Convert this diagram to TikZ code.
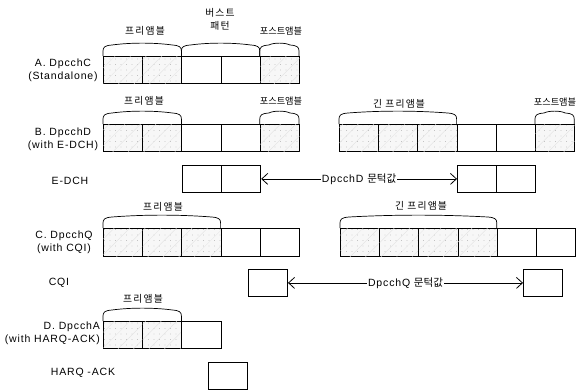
\documentclass[tikz,border=0pt]{standalone}
\usepackage{fontspec}
\setmainfont{Liberation Sans}
\newfontfamily\krs[LetterSpace=12]{Noto Sans CJK KR}
\newfontfamily\kr{Noto Sans CJK KR}
\newfontfamily\lat[LetterSpace=8]{Liberation Sans}
\usetikzlibrary{arrows.meta,patterns.meta}
\tikzset{
  cell/.style={draw, line width=0.8pt, minimum width=39.2pt, minimum height=27pt, inner sep=0pt, anchor=north west},
  sh/.style={preaction={fill=black!3}, pattern={Dots[distance=5.5pt, radius=0.4pt]}, pattern color=black!35,
     postaction={pattern={Lines[angle=45,distance=11pt,line width=0.3pt]}, pattern color=black!12}},
  pl/.style={},
  arcline/.style={draw, line width=0.7pt},
  side/.style={font=\lat\fontsize{10.5}{13}\selectfont, align=center, inner sep=0pt},
  kor/.style={font=\krs\fontsize{9.8}{13}\selectfont, align=center, inner sep=0pt},
  korp/.style={font=\kr\fontsize{9.2}{13}\selectfont, align=center, inner sep=0pt},
  dim/.style={{Straight Barb[length=6pt,width=11pt]}-{Straight Barb[length=6pt,width=11pt]}, line width=0.8pt},
  dimlbl/.style={fill=white, inner sep=1pt, font=\lat\fontsize{10.5}{12}\selectfont}
}
\newcommand\archover[3]{%
\draw[arcline] (#1,#3) -- (#1,{#3-5}) .. controls (#1,{#3-9}) and ({#1+2},{#3-10.5}) .. ({#1+9},{#3-11})
 .. controls ({#1+(#2-#1)*0.35},{#3-13.5}) and ({#2-(#2-#1)*0.35},{#3-13.5}) .. ({#2-9},{#3-11})
 .. controls ({#2-2},{#3-10.5}) and (#2,{#3-9}) .. (#2,{#3-5}) -- (#2,#3);}
\begin{document}
\begin{tikzpicture}[x=1pt,y=-1pt]
\useasboundingbox (0,0) rectangle (588,389);
% Row A
\foreach \i/\st in {1/sh,2/sh,3/pl,4/pl,5/sh}
  \node[cell,\st] (a\i) at ({103+(\i-1)*39.2},56) {};
\archover{103}{181.4}{56}
\archover{181.4}{259.8}{56}
\archover{259.8}{299}{56}
\node[kor] (ta1) at (145,31) {프리앰블};
\node[kor] (ta2) at (220,19.5) {버스트\\패턴};
\node[korp] (ta3) at (281,31) {포스트앰블};
\node[side] (la) at (63,70) {A. DpcchC\\(Standalone)};
% Row B
\foreach \i/\st in {1/sh,2/sh,3/pl,4/pl,5/sh}
  \node[cell,\st] (b\i) at ({103+(\i-1)*39.2},124) {};
\foreach \i/\st in {1/sh,2/sh,3/sh,4/pl,5/pl,6/sh}
  \node[cell,\st] (br\i) at ({339+(\i-1)*39.2},124) {};
\archover{103}{181.4}{124}
\archover{259.8}{299}{124}
\archover{339}{456.6}{124}
\archover{535}{574.2}{124}
\node[kor] (tb1) at (144,101) {프리앰블};
\node[korp] (tb2) at (281,101) {포스트앰블};
\node[kor] (tb3) at (399,104) {긴 프리앰블};
\node[korp] (tb4) at (555,102) {포스트앰블};
\node[side] (lb) at (63,139) {B. DpcchD\\(with E-DCH)};
% E-DCH
\node[cell] (e1) at (182,165) {};
\node[cell] (e2) at (221.2,165) {};
\node[cell] (e3) at (457,165) {};
\node[cell] (e4) at (496.2,165) {};
\node[side] (le) at (70,181) {E-DCH};
\draw[dim] (e2.east) -- node[dimlbl] {DpcchD {\kr 문턱값}} (e3.west);
% Row C
\foreach \i/\st in {1/sh,2/sh,3/sh,4/pl,5/pl}
  \node[cell,\st,minimum height=28pt] (c\i) at ({103+(\i-1)*39.2},228) {};
\foreach \i/\st in {1/sh,2/sh,3/sh,4/sh,5/pl,6/pl}
  \node[cell,\st,minimum height=28pt] (cr\i) at ({340+(\i-1)*39.2},228) {};
\archover{103}{220.6}{228}
\archover{340}{496.8}{228}
\node[kor] (tc1) at (163,207) {프리앰블};
\node[kor] (tc2) at (421,206) {긴 프리앰블};
\node[side] (lc) at (64,242) {C. DpcchQ\\(with CQI)};
% CQI
\node[cell] (q1) at (248,269) {};
\node[cell] (q2) at (523,269) {};
\node[side] (lq) at (59,283) {CQI};
\draw[dim] (q1.east) -- node[dimlbl] {DpcchQ {\kr 문턱값}} (q2.west);
% Row D
\foreach \i/\st in {1/sh,2/sh,3/pl}
  \node[cell,\st] (d\i) at ({103+(\i-1)*39.2},321) {};
\archover{103}{181.4}{321}
\node[kor] (td1) at (143,299) {프리앰블};
\node[side, align=right, anchor=east] (ld) at (100,333.5) {D. DpcchA\\(with HARQ-ACK)};
% HARQ-ACK
\node[cell] (h1) at (208,362) {};
\node[side] (lh) at (83,373) {HARQ -ACK};
\end{tikzpicture}
\end{document}
